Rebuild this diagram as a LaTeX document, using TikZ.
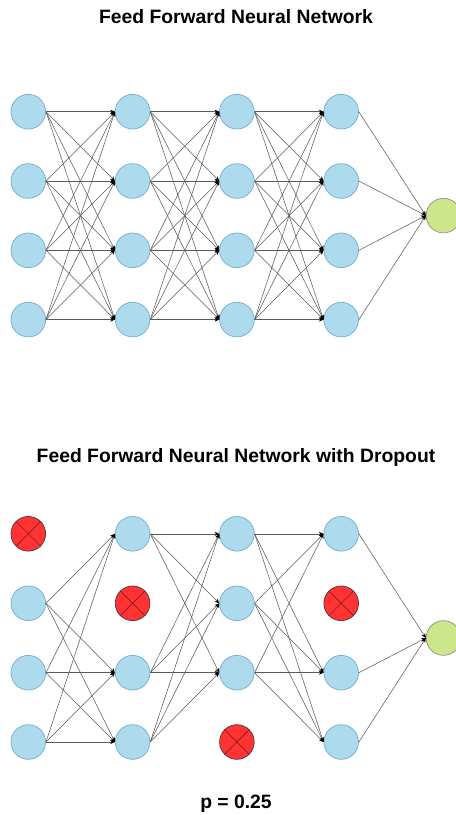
\documentclass[tikz,border=0pt]{standalone}
\usepackage{fontspec}
\setmainfont{Liberation Sans}
\usetikzlibrary{arrows.meta}
\definecolor{unitfill}{RGB}{174,218,238}
\definecolor{unitedge}{RGB}{110,170,205}
\definecolor{outfill}{RGB}{204,231,138}
\definecolor{outedge}{RGB}{140,140,140}
\definecolor{dropfill}{RGB}{255,51,51}
\definecolor{dropedge}{RGB}{80,50,50}
\definecolor{dropcross}{RGB}{130,30,30}
\definecolor{linkcol}{RGB}{90,90,90}
\tikzset{
  unit/.style={circle, draw=unitedge, fill=unitfill, line width=0.5pt, minimum size=26pt, inner sep=0pt},
  outunit/.style={circle, draw=outedge, fill=outfill, line width=0.5pt, minimum size=26pt, inner sep=0pt},
  dropunit/.style={circle, draw=dropedge, fill=dropfill, line width=0.5pt, minimum size=26pt, inner sep=0pt},
  link/.style={draw=linkcol, line width=0.4pt, -{Stealth[length=3.5pt,width=3pt,color=black]}},
  heading/.style={font=\bfseries\fontsize{14.5}{17}\selectfont, inner sep=0pt}
}
\newcommand{\crossout}[1]{%
  \draw[dropcross, line width=0.5pt] (#1.north west) -- (#1.south east);
  \draw[dropcross, line width=0.5pt] (#1.north east) -- (#1.south west);}
\begin{document}
\begin{tikzpicture}[x=0.75pt, y=-0.75pt]
\useasboundingbox (0,0) rectangle (456,815);

% ---------- plain network ----------
\node[heading] (t1) at (236,17) {Feed Forward Neural Network};
\foreach \c/\x in {1/28.3,2/132.6,3/236.9,4/341.2}{
  \foreach \r/\y in {1/111.7,2/181,3/250.3,4/319.6}{
    \node[unit] (a\c\r) at (\x,\y) {};
  }
}
\node[outunit] (aout) at (443.5,215.6) {};
% every link runs from the right point of one unit to the left point of the next
\foreach \c/\n in {1/2,2/3,3/4}{
  \foreach \r in {1,2,3,4}{
    \foreach \s in {1,2,3,4}{
      \draw[link] (a\c\r.east) -- (a\n\s.west);
    }
  }
}
\foreach \r in {1,2,3,4}{ \draw[link] (a4\r.east) -- (aout.west); }

% ---------- network with dropout ----------
\node[heading] (t2) at (236,457) {Feed Forward Neural Network with Dropout};
\foreach \c/\x in {1/28.3,2/132.6,3/236.9,4/341.2}{
  \foreach \r/\y in {1/533.8,2/603.3,3/672.7,4/742}{
    \coordinate (p\c\r) at (\x,\y);
  }
}
% kept units
\foreach \k in {12,13,14,21,23,24,31,32,33,41,43,44}{
  \node[unit] (b\k) at (p\k) {};
}
% dropped units
\foreach \k in {11,22,34,42}{
  \node[dropunit] (b\k) at (p\k) {};
  \crossout{b\k}
}
\node[outunit] (bout) at (443.5,638) {};
\foreach \s in {2,3,4}{ \foreach \t in {1,3,4}{ \draw[link] (b1\s.east) -- (b2\t.west); } }
\foreach \s in {1,3,4}{ \foreach \t in {1,2,3}{ \draw[link] (b2\s.east) -- (b3\t.west); } }
\foreach \s in {1,2,3}{ \foreach \t in {1,3,4}{ \draw[link] (b3\s.east) -- (b4\t.west); } }
\foreach \s in {1,3,4}{ \draw[link] (b4\s.east) -- (bout.west); }

\node[heading] (pval) at (236,804) {p = 0.25};
\end{tikzpicture}
\end{document}
